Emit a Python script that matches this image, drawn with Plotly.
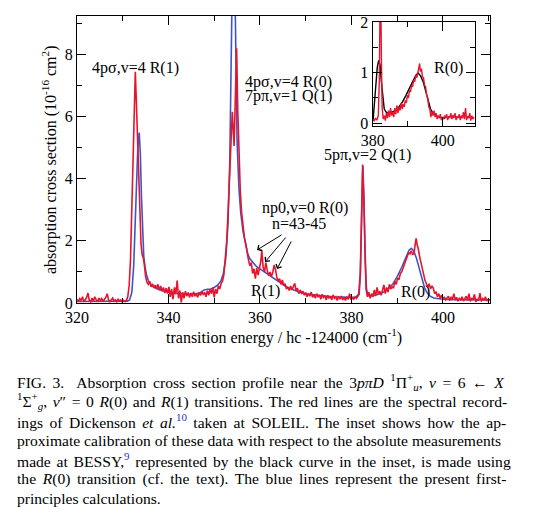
import plotly.graph_objects as go

# ---------------- data ----------------
red_x = [320.0,320.3,320.6,320.9,321.2,321.5,321.8,322.1,322.4,322.7,323.0,323.3,323.6,323.9,324.2,324.5,324.8,325.1,325.4,325.7,
         326.0,326.3,326.6,326.9,327.2,327.5,327.8,328.1,328.4,328.7,329.0,329.3,329.6,329.9,330.2,330.5,330.8,331.1,331.4,331.7,
         332.0,332.3,332.55,332.75,332.95,333.2,333.5,333.8,334.0,334.25,334.5,334.75,335.0,335.3,335.6,335.9,336.2,336.5,336.8,337.1,
         337.4,337.7,338.0,338.3,338.6,338.9,339.2,339.5,339.8,340.1,340.4,340.7,341.0,341.3,341.6,341.9,342.2,342.5,342.8,343.1,
         343.4,343.7,344.0,344.3,344.6,344.9,345.2,345.5,345.8,346.1,346.4,346.7,347.0,347.3,347.6,347.9,348.2,348.5,348.8,349.1,
         349.4,349.7,350.0,350.3,350.6,350.9,351.2,351.5,351.8,352.1,352.4,352.7,353.0,353.3,353.6,353.95,354.35,354.65,354.9,355.15,
         355.4,355.7,356.0,356.3,356.6,356.9,357.2,357.5,357.8,358.1,358.4,358.7,359.0,359.3,359.6,359.9,360.2,360.4,360.7,361.0,
         361.3,361.6,361.9,362.2,362.5,362.8,363.1,363.4,363.7,364.0,364.3,364.6,364.9,365.2,365.5,365.8,366.1,366.4,366.7,367.0,
         367.3,367.6,367.9,368.2,368.5,368.8,369.1,369.4,369.7,370.0,370.3,370.6,370.9,371.2,371.5,371.8,372.1,372.4,372.7,373.0,
         373.3,373.6,373.9,374.2,374.5,374.8,375.1,375.4,375.7,376.0,376.3,376.6,376.9,377.2,377.5,377.8,378.1,378.4,378.7,379.0,
         379.3,379.6,379.9,380.2,380.5,380.8,381.1,381.4,381.7,381.95,382.2,382.45,382.7,382.95,383.2,383.5,383.8,384.1,384.4,384.7,
         385.0,385.3,385.6,385.9,386.2,386.5,386.8,387.1,387.4,387.7,388.0,388.3,388.6,388.9,389.2,389.5,389.8,390.1,390.4,390.7,
         391.0,391.3,391.6,391.9,392.2,392.5,392.8,393.1,393.4,393.7,394.0,394.15,394.4,394.6,394.9,395.2,395.5,395.8,396.1,396.4,
         396.7,397.0,397.3,397.6,397.9,398.2,398.5,398.8,399.1,399.4,399.7,400.0,400.3,400.6,400.9,401.2,401.5,401.8,402.1,402.4,
         402.7,403.0,403.3,403.6,403.9,404.2,404.5,404.8,405.1,405.4,405.7,406.0,406.3,406.6,406.9,407.2,407.5,407.8,408.1,408.4,
         408.7,409.0,409.3,409.6,409.9,410.2]
red_y = [0.12,0.04,0.14,0.08,0.2,0.06,0.1,0.18,0.32,0.08,0.04,0.16,0.06,0.2,0.1,0.04,0.16,0.08,0.14,0.05,
         0.12,0.18,0.3,0.1,0.04,0.12,0.16,0.06,0.1,0.04,0.13,0.06,0.1,0.03,0.08,0.04,0.08,0.2,0.55,1.4,
         3.0,4.9,6.6,7.44,6.6,5.3,3.9,2.7,1.9,1.55,1.45,1.2,0.85,0.66,0.6,0.7,0.52,0.62,0.48,0.58,
         0.45,0.6,0.42,0.55,0.38,0.5,0.32,0.48,0.3,0.52,0.2,0.45,0.12,0.5,0.28,0.72,0.15,0.4,0.02,0.35,
         0.15,0.38,0.22,0.34,0.18,0.32,0.2,0.36,0.22,0.3,0.18,0.34,0.24,0.38,0.26,0.35,0.2,0.4,0.25,0.45,
         0.3,0.5,0.18,0.45,0.3,0.55,0.45,0.62,0.7,0.9,1.3,1.9,2.8,3.8,4.9,6.15,5.05,6.8,8.19,6.2,
         4.6,3.6,2.9,2.45,2.1,1.9,1.55,1.38,1.2,1.3,0.95,1.1,0.78,1.12,0.9,1.15,1.35,1.7,1.15,1.0,
         1.3,1.05,0.88,1.0,0.85,0.98,1.22,1.08,0.82,0.72,0.78,0.6,0.74,0.55,0.62,0.45,0.52,0.4,0.55,0.42,
         0.5,0.63,0.4,0.48,0.3,0.42,0.32,0.38,0.25,0.34,0.2,0.3,0.22,0.35,0.18,0.28,0.15,0.3,0.2,0.26,
         0.12,0.28,0.18,0.24,0.1,0.25,0.16,0.22,0.1,0.26,0.15,0.2,0.08,0.22,0.14,0.2,0.1,0.18,0.08,0.2,
         0.12,0.3,0.1,0.16,0.12,0.2,0.15,0.2,0.28,0.9,2.6,4.45,3.4,1.5,0.45,0.2,0.35,0.15,0.3,0.2,
         0.42,0.22,0.5,0.28,0.38,0.25,0.45,0.58,0.3,0.5,0.35,0.6,0.45,0.52,0.48,0.7,0.6,0.8,0.75,0.95,
         1.0,1.12,1.2,1.35,1.5,1.62,1.58,1.68,1.55,1.62,1.95,2.08,1.85,1.76,1.5,1.3,1.1,0.9,0.72,0.62,
         0.5,0.62,0.45,0.55,0.48,0.3,0.36,0.2,0.3,0.15,0.25,0.12,0.2,0.1,0.18,0.22,0.08,0.2,0.12,0.3,
         0.1,0.18,0.06,0.15,0.1,0.2,0.06,0.14,0.22,0.08,0.3,0.05,0.16,0.1,0.28,0.04,0.12,0.08,0.32,0.05,
         0.14,0.1,0.2,0.06,0.12,0.08]

blue_x = [320,322,325,328,330,331,331.5,332.0,332.4,332.7,333.0,333.3,333.6,333.85,334.1,334.35,334.6,334.9,335.2,335.6,
          336.0,336.5,337,338,339,340,341,342,343,344,345,346,347,347.8,348.5,349.3,350,350.8,351.5,352,
          352.5,353.0,353.4,353.7,353.9,354.2,354.5,354.7,355.0,355.4,355.8,356.3,356.8,357.3,357.8,358.5,359.2,360,361,362,
          363,364,365,366,367,368,369,370,372,374,376,378,380,381,381.6,381.95,382.25,382.5,382.75,383.0,
          383.3,383.6,384,385,386,387,388,389,390,391,392,392.6,393.1,393.6,394.2,394.8,395.4,396.0,396.6,397.2,
          398,399,400,402,405,408,410.3]
blue_y = [0.05,0.05,0.06,0.06,0.06,0.06,0.1,0.35,1.2,2.5,3.9,5.0,5.48,4.8,3.4,2.2,1.5,1.15,0.9,0.72,
          0.62,0.55,0.5,0.43,0.38,0.35,0.32,0.3,0.29,0.28,0.29,0.3,0.34,0.42,0.44,0.45,0.5,0.58,0.72,0.95,
          1.4,2.5,4.5,7.5,10.5,13.0,10.5,7.5,5.2,3.7,2.9,2.3,1.9,1.6,1.42,1.28,1.18,1.1,1.0,0.9,
          0.8,0.68,0.58,0.5,0.44,0.38,0.33,0.3,0.25,0.22,0.2,0.18,0.18,0.19,0.3,1.0,3.2,4.4,3.3,1.4,
          0.45,0.25,0.22,0.24,0.28,0.35,0.45,0.6,0.85,1.15,1.5,1.7,1.76,1.68,1.45,1.1,0.75,0.48,0.32,0.22,
          0.16,0.13,0.12,0.11,0.1,0.1,0.1]

inset_black_x = [380.1,380.5,380.9,381.3,381.7,382.1,382.5,382.9,383.3,383.8,384.5,385.5,386.5,387.5,388.5,389.5,390.5,391.5,392.3,393.0,
                 393.7,394.4,395.1,395.8,396.5,397.2,398.0,399.0,400.0,400.6]
inset_black_y = [0.05,0.35,0.8,1.1,1.24,1.15,0.8,0.45,0.28,0.22,0.2,0.22,0.25,0.32,0.42,0.55,0.7,0.84,0.95,0.99,
                 0.93,0.82,0.62,0.43,0.28,0.2,0.15,0.12,0.1,0.09]

inset_red_x = [380.0,380.4,380.8,381.2,381.6,381.9,382.1,382.3,382.5,382.7,383.0,383.3,383.6,383.9,384.2,384.5,384.8,385.1,385.4,385.7,
               386.0,386.3,386.6,386.9,387.2,387.5,387.8,388.1,388.4,388.7,389.0,389.3,389.6,389.9,390.2,390.5,390.8,391.1,391.4,391.7,
               392.0,392.3,392.6,392.9,393.2,393.4,393.6,393.9,394.2,394.5,394.8,395.1,395.4,395.7,396.0,396.3,396.6,396.9,397.2,397.5,
               397.8,398.1,398.4,398.7,399.0,399.3,399.6,399.9,400.2,400.5,400.8,401.1,401.4,401.7,402.0,402.3,402.6,402.9,403.2,403.5,
               403.8,404.1,404.4,404.7,405.0,405.3,405.6,405.9,406.2,406.5,406.8,407.1,407.4,407.7,408.0,408.3,408.6,408.9]
inset_red_y = [0.08,0.04,0.1,0.06,0.15,0.9,2.5,2.5,1.2,0.3,0.08,0.15,0.05,0.2,0.1,0.25,0.12,0.3,0.15,0.22,
               0.12,0.3,0.18,0.35,0.2,0.32,0.25,0.4,0.28,0.38,0.32,0.45,0.4,0.55,0.5,0.65,0.62,0.75,0.72,0.85,
               0.82,0.95,0.9,1.0,1.05,1.18,1.02,1.08,0.92,0.9,0.75,0.72,0.55,0.5,0.32,0.28,0.12,0.22,0.15,0.25,
               0.12,0.2,0.08,0.15,0.1,0.18,0.06,0.12,0.08,0.15,0.1,0.18,0.06,0.14,0.1,0.2,0.08,0.16,0.1,0.2,
               0.06,0.14,0.1,0.18,0.06,0.15,0.1,0.22,0.08,0.3,0.06,0.14,0.1,0.2,0.05,0.15,0.08,0.12]

main_xticks = [320, 340, 360, 380, 400]
main_yticks = [0, 2, 4, 6, 8]
inset_xticks = [380, 400]
inset_yticks = [0, 1, 2]

caption_lines = [
    "FIG. 3.  Absorption cross section profile near the 3<i>p\u03c0D</i> <sup>1</sup>\u03a0<sup>+</sup><sub><i>u</i></sub>, <i>v</i> = 6 \u2190 <i>X</i>",
    "<sup>1</sup>\u03a3<sup>+</sup><sub><i>g</i></sub>, <i>v</i>\u2033 = 0 <i>R</i>(0) and <i>R</i>(1) transitions. The red lines are the spectral record-",
    "ings of Dickenson <i>et al.</i><span style='color:#2233cc'><sup>10</sup></span> taken at SOLEIL. The inset shows how the ap-",
    "proximate calibration of these data with respect to the absolute measurements",
    "made at BESSY,<span style='color:#2233cc'><sup>9</sup></span> represented by the black curve in the inset, is made using",
    "the <i>R</i>(0) transition (cf. the text). The blue lines represent the present first-",
    "principles calculations.",
]
# extra word spacing (px) to imitate the justified caption lines
caption_wordspacing = [2.6, 1.7, 2.6, 0, 1.9, 2.7, 0]

# ---------------- figure ----------------
W, H = 533, 519
FONT = "Liberation Serif, Times New Roman, serif"
RED = "#e8142e"
BLUE = "#3f55c4"

def px(x):
    return x / W

def py(y):
    return 1 - y / H

fig = go.Figure()
fig.add_trace(go.Scatter(x=blue_x, y=blue_y, mode="lines", line=dict(color=BLUE, width=1.6),
                         xaxis="x", yaxis="y", showlegend=False))
fig.add_trace(go.Scatter(x=red_x, y=red_y, mode="lines", line=dict(color=RED, width=1.6),
                         xaxis="x", yaxis="y", showlegend=False))
fig.add_trace(go.Scatter(x=inset_black_x, y=inset_black_y, mode="lines", line=dict(color="black", width=1.4),
                         xaxis="x2", yaxis="y2", showlegend=False))
fig.add_trace(go.Scatter(x=inset_red_x, y=inset_red_y, mode="lines", line=dict(color=RED, width=1.4),
                         xaxis="x2", yaxis="y2", showlegend=False))

axis_common = dict(showline=True, linecolor="black", linewidth=1.3, mirror="ticks",
                   ticks="inside", ticklen=9, tickwidth=1.2, tickcolor="black",
                   showgrid=False, zeroline=False, automargin=False,
                   tickfont=dict(family=FONT, size=16, color="black"))

fig.update_layout(
    width=W, height=H, autosize=False,
    margin=dict(l=0, r=0, t=0, b=0, pad=0, autoexpand=False),
    paper_bgcolor="white", plot_bgcolor="white",
    xaxis=dict(domain=[px(77), px(490)], range=[320, 410.3], anchor="y",
               tickvals=main_xticks,
               minor=dict(dtick=10, tick0=320, ticks="inside", ticklen=5, tickcolor="black"),
               **axis_common),
    yaxis=dict(domain=[py(303), py(16)], range=[0, 9.23], anchor="x",
               tickvals=main_yticks,
               minor=dict(dtick=1, tick0=0, ticks="inside", ticklen=5, tickcolor="black"),
               **axis_common),
    xaxis2=dict(domain=[px(372.7), px(475)], range=[380, 409.2], anchor="y2",
                tickvals=inset_xticks,
                minor=dict(dtick=10, tick0=380, ticks="inside", ticklen=5, tickcolor="black"),
                **axis_common),
    yaxis2=dict(domain=[py(125.7), py(22)], range=[-0.05, 2], anchor="x2",
                tickvals=inset_yticks,
                minor=dict(dtick=0.5, tick0=0, ticks="inside", ticklen=5, tickcolor="black"),
                **axis_common),
)

ann = []
def label(text, x, y, xanchor="center", size=16):
    ann.append(dict(text=text, x=px(x), y=py(y), xref="paper", yref="paper",
                    xanchor=xanchor, yanchor="middle", showarrow=False,
                    font=dict(family=FONT, size=size, color="black")))

label("4p\u03c3,v=4 R(1)", 90, 68, "left")
label("4p\u03c3,v=4 R(0)", 243, 82, "left")
label("7p\u03c0,v=1 Q(1)", 243, 96, "left")
label("5p\u03c0,v=2 Q(1)", 322, 155, "left")
label("np0,v=0 R(0)", 305, 208)
label("n=43-45", 298.5, 223)
label("R(1)", 265, 291)
label("R(0)", 415, 292)
label("R(0)", 448, 68)

# axis titles
ann.append(dict(text="absorption cross section (10<sup>-16</sup> cm<sup>2</sup>)", x=px(50), y=py(160),
                xref="paper", yref="paper", textangle=-90, showarrow=False,
                xanchor="center", yanchor="middle", font=dict(family=FONT, size=16, color="black")))
ann.append(dict(text="transition energy / hc -124000 (cm<sup>-1</sup>)", x=px(284), y=py(336),
                xref="paper", yref="paper", showarrow=False,
                xanchor="center", yanchor="middle", font=dict(family=FONT, size=16, color="black")))

# arrows
for (tx, ty, sx, sy) in [(257, 250, 283, 234), (265, 262, 287, 236), (277, 269, 292, 240)]:
    ann.append(dict(text="", x=px(tx), y=py(ty), xref="paper", yref="paper",
                    ax=sx - tx, ay=sy - ty, axref="pixel", ayref="pixel",
                    showarrow=True, arrowhead=4, arrowsize=1.2, arrowwidth=1, arrowcolor="black"))

# caption
for i, line in enumerate(caption_lines):
    ws = caption_wordspacing[i]
    text = f"<span style='word-spacing:{ws}px'>{line}</span>" if ws else line
    ann.append(dict(text=text, x=px(15), y=py(382 + 19.4 * i), xref="paper", yref="paper",
                    xanchor="left", yanchor="middle", showarrow=False, align="left",
                    font=dict(family=FONT, size=15.6, color="black")))

fig.update_layout(annotations=ann)
fig.write_html("out.html", config={"displayModeBar": False},
               post_script="document.body.style.margin='0px';document.body.style.padding='0px';")
